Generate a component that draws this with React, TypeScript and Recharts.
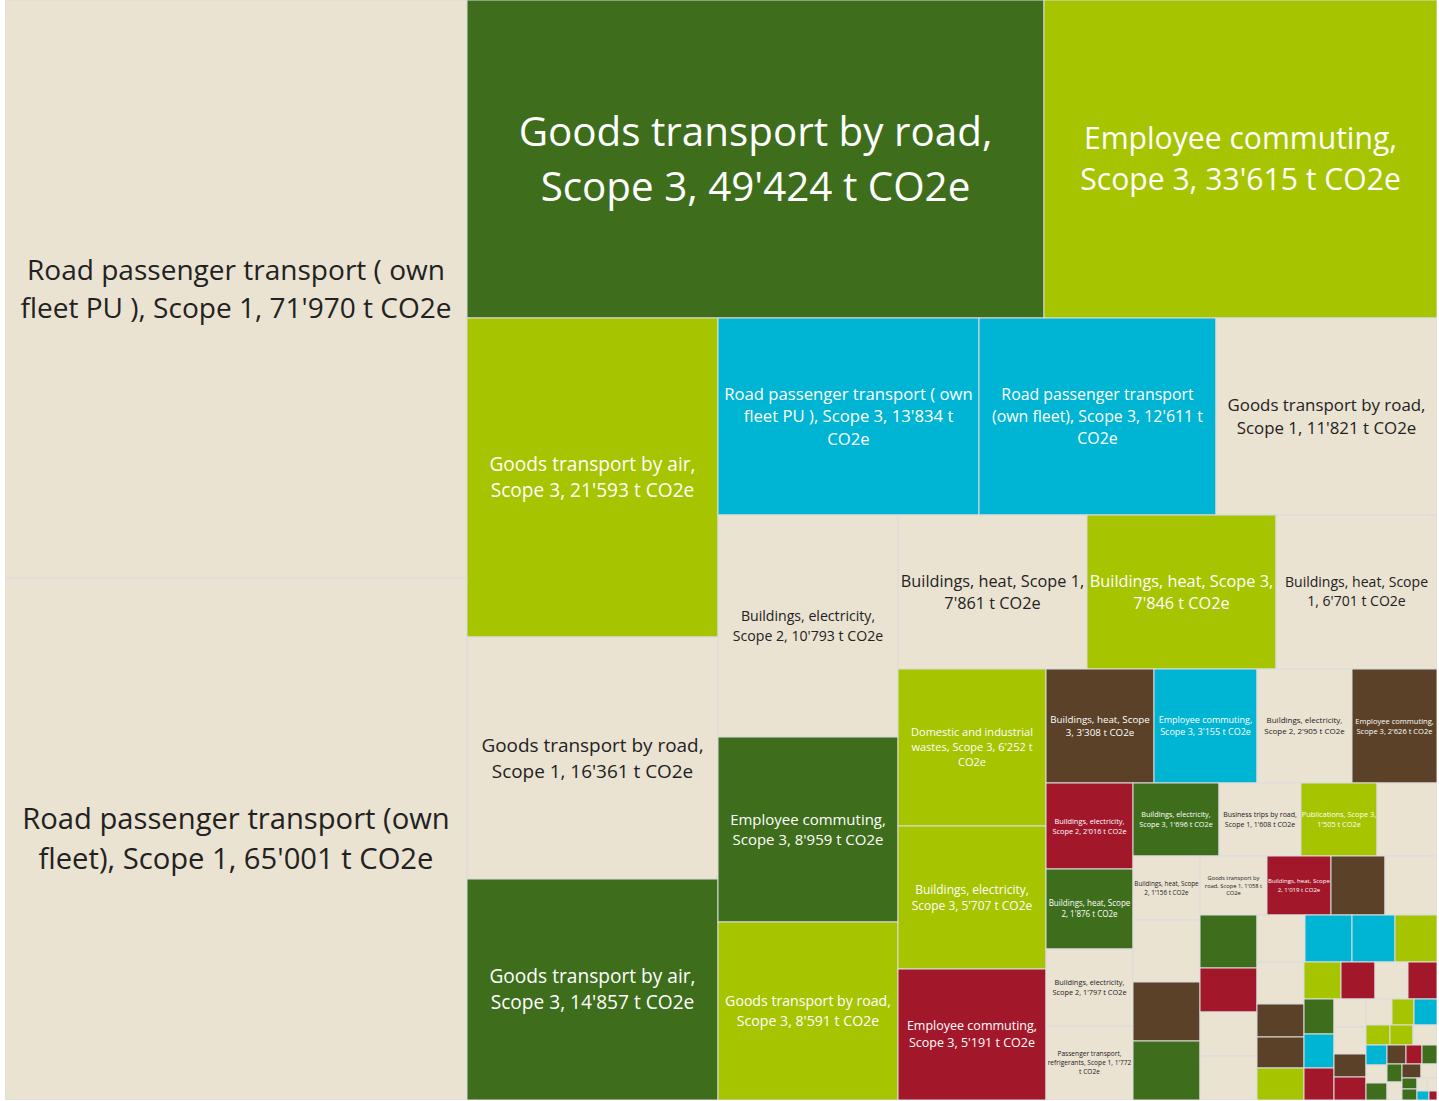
import { Treemap } from "recharts";

// emissions by source, t CO2e (sorted descending, as the treemap lays them out)
const labels = [
  "Road passenger transport ( own fleet PU ), Scope 1, 71'970 t CO2e",
  "Road passenger transport (own fleet), Scope 1, 65'001 t CO2e",
  "Goods transport by road, Scope 3, 49'424 t CO2e",
  "Employee commuting, Scope 3, 33'615 t CO2e",
  "Goods transport by air, Scope 3, 21'593 t CO2e",
  "Goods transport by road, Scope 1, 16'361 t CO2e",
  "Goods transport by air, Scope 3, 14'857 t CO2e",
  "Road passenger transport ( own fleet PU ), Scope 3, 13'834 t CO2e",
  "Road passenger transport (own fleet), Scope 3, 12'611 t CO2e",
  "Goods transport by road, Scope 1, 11'821 t CO2e",
  "Buildings, electricity, Scope 2, 10'793 t CO2e",
  "Employee commuting, Scope 3, 8'959 t CO2e",
  "Goods transport by road, Scope 3, 8'591 t CO2e",
  "Buildings, heat, Scope 1, 7'861 t CO2e",
  "Buildings, heat, Scope 3, 7'846 t CO2e",
  "Buildings, heat, Scope 1, 6'701 t CO2e",
  "Domestic and industrial wastes, Scope 3, 6'252 t CO2e",
  "Buildings, electricity, Scope 3, 5'707 t CO2e",
  "Employee commuting, Scope 3, 5'191 t CO2e",
  "Buildings, heat, Scope 3, 3'308 t CO2e",
  "Employee commuting, Scope 3, 3'155 t CO2e",
  "Buildings, electricity, Scope 2, 2'905 t CO2e",
  "Employee commuting, Scope 3, 2'626 t CO2e",
  "Buildings, electricity, Scope 2, 2'016 t CO2e",
  "Buildings, heat, Scope 2, 1'876 t CO2e",
  "Buildings, electricity, Scope 2, 1'797 t CO2e",
  "Passenger transport, refrigerants, Scope 1, 1'772 t CO2e",
  "Buildings, electricity, Scope 3, 1'696 t CO2e",
  "Business trips by road, Scope 1, 1'608 t CO2e",
  "Publications, Scope 3, 1'505 t CO2e",
  "",
  "Buildings, heat, Scope 2, 1'156 t CO2e",
  "",
  "",
  "",
  "Goods transport by road, Scope 1, 1'058 t CO2e",
  "Buildings, heat, Scope 2, 1'019 t CO2e",
];

const values = [
  71970, 65001, 49424, 33615, 21593, 16361, 14857, 13834, 12611, 11821,
  10793, 8959, 8591, 7861, 7846, 6701, 6252, 5707, 5191, 3308,
  3155, 2905, 2626, 2016, 1876, 1797, 1772, 1696, 1608, 1505,
  1185, 1156, 1120, 1070, 1062, 1058, 1019, 860, 850, 817,
  683, 680, 638, 611, 598, 549, 536, 529, 416, 397,
  395, 365, 335, 330, 300, 283, 275, 250, 243, 236,
  196, 189, 182, 157, 151, 130, 125, 119, 113, 104,
  100, 95, 84, 80, 74, 72, 70, 60, 45, 42,
  36, 34, 30, 28, 26, 24, 22, 20, 18, 16,
  14, 12, 10, 8, 6, 5, 4,
];

const tones = [
  "beige", "beige", "green", "lime", "lime", "beige", "green", "cyan", "cyan", "beige",
  "beige", "green", "lime", "beige", "lime", "beige", "lime", "lime", "red", "brown",
  "cyan", "beige", "brown", "red", "green", "beige", "beige", "green", "beige", "lime",
  "beige", "beige", "beige", "brown", "green", "beige", "red", "brown", "beige", "green",
  "red", "beige", "beige", "beige", "cyan", "cyan", "lime", "beige", "brown", "brown",
  "lime", "lime", "red", "beige", "red", "green", "cyan", "red", "beige", "beige",
  "brown", "red", "beige", "lime", "cyan", "lime", "lime", "beige", "cyan", "beige",
  "green", "brown", "red", "green", "green", "beige", "brown", "beige", "green", "green",
  "beige", "beige", "cyan", "red", "cyan", "cyan", "green", "brown", "lime", "brown",
  "beige", "cyan", "green", "red", "lime", "beige", "brown",
];

const palette: Record<string, { fill: string; text: string }> = {
  beige: { fill: "#eae3d2", text: "#222222" },
  green: { fill: "#3e6e1c", text: "#ffffff" },
  lime: { fill: "#a6c400", text: "#ffffff" },
  cyan: { fill: "#00b4d3", text: "#ffffff" },
  brown: { fill: "#5a4127", text: "#ffffff" },
  red: { fill: "#a3172a", text: "#ffffff" },
};

const data = values.map((v, i) => ({ name: labels[i] ?? "", size: v, tone: tones[i] }));

const FONT = '"Open Sans", sans-serif';
const LINE = 1.36;
let ctx: CanvasRenderingContext2D | null = null;

const measure = (text: string, fs: number) => {
  if (!ctx) ctx = document.createElement("canvas").getContext("2d");
  if (!ctx) return text.length * fs * 0.52;
  ctx.font = `${fs}px ${FONT}`;
  return ctx.measureText(text).width;
};

const wrap = (text: string, fs: number, maxW: number) => {
  const lines: string[] = [];
  let cur = "";
  for (const word of text.split(" ")) {
    const next = cur ? cur + " " + word : word;
    if (cur && measure(next, fs) > maxW) {
      lines.push(cur);
      cur = word;
    } else cur = next;
  }
  if (cur) lines.push(cur);
  return lines;
};

// font grows with the cell width, shrinks for longer labels
const fitLabel = (text: string, w: number, h: number) => {
  let fs = ((0.486 * w) / Math.sqrt(text.length)) * Math.pow(500 / w, 0.09);
  for (let k = 0; k < 50; k++) {
    const lines = wrap(text, fs, w * 0.98);
    const widest = Math.max(...lines.map((l) => measure(l, fs)));
    if (lines.length * fs * LINE <= h * 0.94 && widest <= w * 0.99) return { fs, lines };
    fs *= 0.95;
  }
  return null;
};

const CellContent = (props: any) => {
  const { x, y, width, height, depth, index, name } = props;
  if (depth !== 1 || width <= 0 || height <= 0) return null;
  const c = palette[props.tone ?? tones[index]] ?? palette.beige;
  const label = name ? fitLabel(name, width, height) : null;
  const lh = label ? label.fs * LINE : 0;
  const cx = x + width / 2;
  const first = label ? y + height / 2 - ((label.lines.length - 1) * lh) / 2 + label.fs * 0.35 : 0;
  return (
    <g>
      <rect x={x} y={y} width={width} height={height} fill={c.fill} stroke="#dcdcdc" strokeWidth={1} />
      {label && label.fs >= 3 && (
        <text textAnchor="middle" fill={c.text} fontFamily={FONT} fontSize={label.fs}>
          {label.lines.map((l, i) => (
            <tspan key={i} x={cx} y={first + i * lh}>
              {l}
            </tspan>
          ))}
        </text>
      )}
    </g>
  );
};

export default function App() {
  return (
    <div style={{ position: "absolute", left: 5, top: 0, background: "#ffffff" }}>
      <Treemap
        width={1432}
        height={1100}
        data={data}
        dataKey="size"
        nameKey="name"
        aspectRatio={1}
        isAnimationActive={false}
        content={<CellContent />}
      />
    </div>
  );
}
